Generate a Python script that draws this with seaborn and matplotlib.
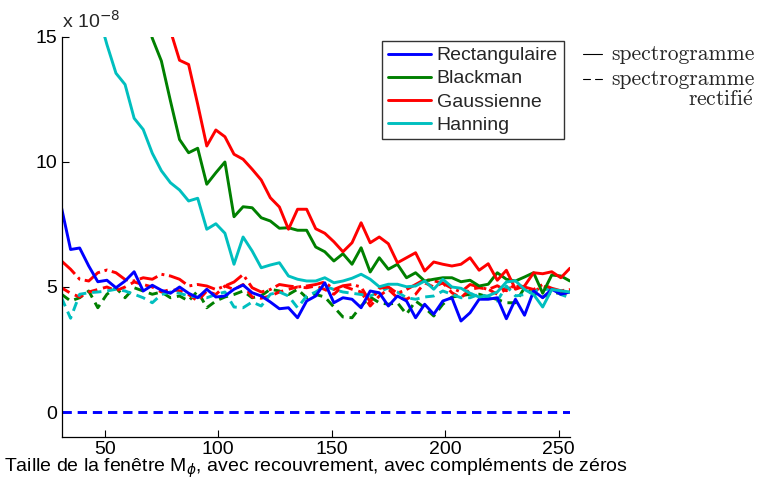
import numpy as np
import pandas as pd
import matplotlib
matplotlib.use('Agg')
import matplotlib.pyplot as plt
from matplotlib.lines import Line2D
import seaborn as sns

# window sizes (x axis)
taille = list(range(31, 256, 4))

# solid lines : spectrogramme  (units of 1e-8)
rect = [8.17, 6.5, 6.56, 5.84, 5.21, 5.27, 4.97, 5.24, 5.61, 4.84, 5.07, 4.87, 4.75, 5.0, 4.75,
        4.57, 4.91, 4.6, 4.64, 4.91, 5.08, 4.77, 4.64, 4.4, 4.13, 4.17, 3.77, 4.44, 4.64, 5.17,
        4.37, 4.57, 4.51, 4.17, 4.84, 4.77, 4.24, 4.64, 4.44, 3.77, 4.31, 3.91, 4.44, 4.57, 3.64,
        3.97, 4.51, 4.51, 4.57, 3.73, 4.51, 3.87, 4.84, 4.57, 4.91, 4.71, 4.8]
blackman = [30, 28, 26.5, 25, 23.5, 22, 20.5, 19, 17.6, 16.3, 14.95, 14.04, 12.44, 10.9, 10.37,
            10.55, 9.11, 9.57, 10.0, 7.81, 8.21, 8.17, 7.77, 7.64, 7.35, 7.37, 7.27, 7.27, 6.6,
            6.41, 6.04, 6.33, 5.91, 6.57, 5.6, 6.17, 5.71, 5.91, 5.37, 5.57, 5.24, 5.31, 5.37,
            5.37, 5.21, 5.27, 5.04, 5.11, 5.57, 5.31, 5.24, 5.4, 5.57, 4.75, 5.48, 5.44, 5.24]
gauss = [40, 37, 34, 31, 28.5, 26, 24, 22.3, 20.7, 19.3, 18, 16.6, 15.25, 14.07, 13.9, 12.31,
         10.64, 11.28, 11.01, 10.31, 10.11, 9.71, 9.28, 8.57, 8.2, 7.31, 8.11, 8.11, 7.33, 7.15,
         6.81, 6.41, 6.77, 7.57, 6.77, 7.0, 6.73, 5.97, 6.17, 6.37, 5.64, 6.0, 5.91, 5.84, 5.91,
         6.17, 5.67, 5.93, 5.27, 5.67, 4.91, 5.04, 5.57, 5.53, 5.61, 5.37, 5.75]
hanning = [22.0, 20.2, 18.6, 17.2, 16.0, 14.7, 13.55, 13.1, 11.75, 11.3, 10.35, 9.65, 9.17, 8.88,
           8.44, 8.55, 7.31, 7.53, 7.15, 5.91, 7.0, 6.44, 5.77, 5.88, 5.97, 5.44, 5.31, 5.24,
           5.24, 5.37, 5.17, 5.24, 5.35, 5.51, 5.31, 5.01, 5.11, 5.11, 5.01, 5.04, 5.24, 4.91,
           5.31, 5.0, 4.95, 4.75, 4.6, 4.65, 4.8, 5.2, 5.25, 4.9, 4.7, 4.2, 4.9, 4.85, 4.8]

# dashed lines : spectrogramme rectifie
rect_r = [0.0] * len(taille)
blackman_r = [4.71, 4.44, 4.57, 4.84, 4.17, 4.71, 4.97, 4.57, 4.97, 4.84, 4.71, 4.8, 4.57, 4.64,
              4.44, 4.84, 4.17, 4.44, 4.6, 4.7, 4.84, 4.57, 4.65, 4.91, 4.84, 4.7, 4.91, 4.57,
              4.7, 4.6, 4.2, 3.8, 3.77, 4.24, 4.6, 4.37, 4.31, 4.37, 3.91, 4.44, 4.17, 3.84,
              4.31, 4.6, 4.65, 4.71, 4.71, 4.6, 4.5, 4.37, 4.37, 4.97, 4.71, 4.6, 4.77, 4.75, 4.71]
gauss_r = [4.97, 4.75, 4.6, 4.8, 4.9, 5.0, 4.85, 5.0, 5.2, 5.1, 5.0, 4.8, 4.9, 4.85, 4.7, 4.44,
           4.84, 4.7, 5.04, 4.9, 5.1, 4.6, 4.55, 4.64, 4.8, 4.91, 5.0, 4.97, 5.04, 4.9, 4.71,
           5.04, 4.91, 4.8, 4.24, 4.64, 4.91, 4.57, 4.51, 4.71, 5.17, 5.0, 5.17, 4.77, 4.57,
           4.91, 4.97, 4.91, 4.71, 4.91, 5.04, 4.95, 4.8, 5.04, 4.91, 4.71, 4.75]
gauss_r2 = [6.04, 5.71, 5.31, 5.24, 5.57, 5.68, 5.57, 5.3, 5.24, 5.37, 5.31, 5.51, 5.44, 5.31,
            5.04, 5.1, 5.04, 4.9, 5.04, 5.2, 5.5, 4.97, 4.8, 4.9, 5.1, 5.04, 5.0, 5.04, 5.1,
            5.2, 4.9, 5.05, 5.1, 5.0, 4.4, 4.95, 5.0, 4.75, 4.9, 5.1, 5.3, 5.25, 5.15, 4.95,
            4.8, 5.1, 5.0, 4.9, 5.05, 4.85, 5.1, 5.0, 4.9, 5.1, 4.95, 4.85, 4.9]
hanning_r = [4.57, 3.75, 4.71, 4.77, 4.8, 4.84, 4.91, 4.84, 4.71, 4.57, 4.37, 4.7, 4.8, 4.75,
             4.64, 4.6, 4.57, 4.7, 4.8, 4.2, 4.17, 4.4, 4.24, 4.71, 4.8, 4.64, 4.17, 4.64, 4.8,
             5.04, 4.9, 4.8, 4.75, 4.7, 4.64, 4.8, 4.97, 4.8, 4.57, 4.51, 4.6, 4.64, 4.84, 4.71,
             4.57, 4.57, 4.71, 4.6, 4.44, 5.04, 4.64, 4.7, 4.84, 4.9, 4.91, 4.7, 4.57]

noms = ['Rectangulaire', 'Blackman', 'Gaussienne', 'Hanning']
couleurs = ['#0000ff', '#008000', '#ff0000', '#00bfbf']

sns.set_style('white')
plt.rcParams['font.family'] = ['Liberation Sans', 'DejaVu Sans']

fig = plt.figure(figsize=(7.65, 4.88), dpi=100)
ax = fig.add_axes([0.0804, 0.1045, 0.6646, 0.8197])

lw = 2.1
dash = (3.2, 2.0)
# rectified (dashed) first, then solid
for serie, c in zip([rect_r, blackman_r, gauss_r, hanning_r], couleurs):
    sns.lineplot(x=taille, y=serie, color=c, lw=lw, ax=ax, dashes=False)
    ax.lines[-1].set_dashes(dash)
sns.lineplot(x=taille, y=gauss_r2, color=couleurs[2], lw=lw, ax=ax)
ax.lines[-1].set_linestyle('-.')

handles = []
for serie, c, n in zip([rect, blackman, gauss, hanning], couleurs, noms):
    sns.lineplot(x=taille, y=serie, color=c, lw=lw, ax=ax)
    handles.append(Line2D([], [], color=c, lw=lw, label=n))

ax.set_xlim(31, 255)
ax.set_ylim(-1, 15)
ax.set_xticks([50, 100, 150, 200, 250])
ax.set_yticks([0, 5, 10, 15])
ax.tick_params(direction='in', length=5, width=0.8, labelsize=14, colors='black',
               bottom=True, left=True, pad=3)
for s in ['top', 'right']:
    ax.spines[s].set_visible(False)
for s in ['left', 'bottom']:
    ax.spines[s].set_color('black')
    ax.spines[s].set_linewidth(0.9)

ax.set_xlabel(r'Taille de la fenêtre M$_{\phi}$, avec recouvrement, avec compléments de zéros',
              fontsize=14, color='black', labelpad=-1)
ax.text(0.0, 1.012, r'x 10$^{-8}$', transform=ax.transAxes, fontsize=14, ha='left', va='bottom')

leg = ax.legend(handles=handles, loc='upper right', bbox_to_anchor=(0.988, 0.99), fontsize=14,
                frameon=True, fancybox=False, edgecolor='black', handlelength=2.2,
                handletextpad=0.3, labelspacing=0.28, borderpad=0.3, borderaxespad=0)
leg.get_frame().set_linewidth(1.0)

# right-hand note on line styles
fig.add_artist(Line2D([583 / 765, 602 / 765], [1 - 54 / 488] * 2, color='black', lw=0.8))
fig.add_artist(Line2D([583 / 765, 590 / 765], [1 - 79 / 488] * 2, color='black', lw=0.8))
fig.add_artist(Line2D([595 / 765, 602 / 765], [1 - 79 / 488] * 2, color='black', lw=0.8))
serif = ['cmr10', 'DejaVu Serif']
fig.text(611 / 765, 1 - 60 / 488, 'spectrogramme', family=serif, fontsize=15.5, va='baseline')
fig.text(611 / 765, 1 - 85 / 488, 'spectrogramme', family=serif, fontsize=15.5, va='baseline')
fig.text(753 / 765, 1 - 106 / 488, r'$\mathrm{rectifi\acute{e}}$', math_fontfamily='cm',
         fontsize=15.5, va='baseline', ha='right')

fig.savefig('out.png', dpi=100)
